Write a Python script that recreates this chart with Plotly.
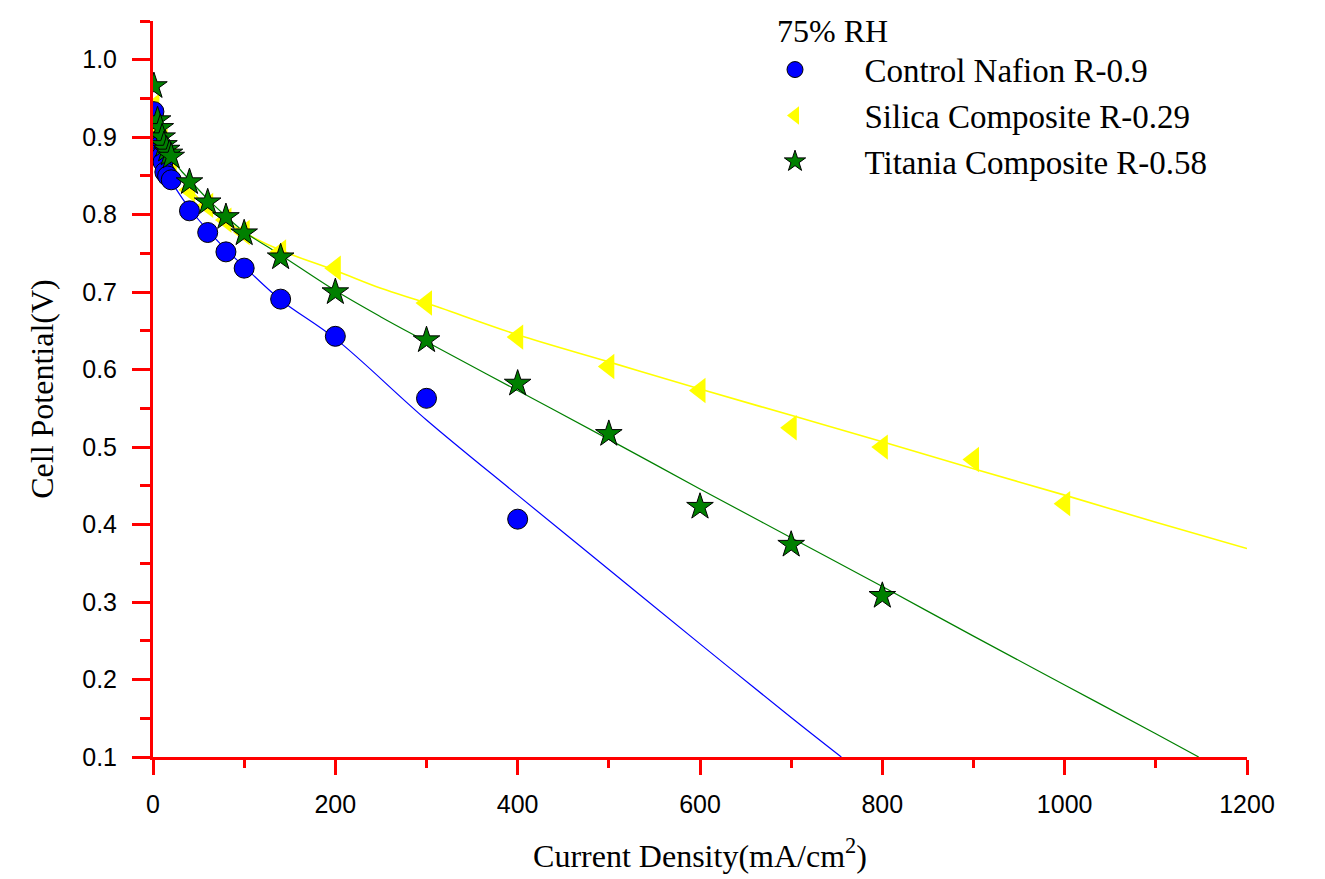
import plotly.graph_objects as go

# ---- data ----
nafion_x = [1, 5, 7, 9, 11, 13, 16, 20, 40, 60, 80, 100, 140, 200, 300, 400]
nafion_y = [0.933, 0.895, 0.882, 0.875, 0.868, 0.855, 0.850, 0.845, 0.805, 0.777, 0.752, 0.731, 0.691, 0.643, 0.563, 0.407]

silica_x = [1, 5, 10, 15, 20, 40, 60, 80, 100, 140, 200, 300, 400, 500, 600, 700, 800, 900, 1000]
silica_y = [0.940, 0.912, 0.895, 0.880, 0.870, 0.832, 0.812, 0.793, 0.777, 0.752, 0.731, 0.686, 0.642, 0.604, 0.573, 0.525, 0.500, 0.484, 0.427]

titania_x = [1, 5, 8, 10, 12, 15, 18, 20, 40, 60, 80, 100, 140, 200, 300, 400, 500, 600, 700, 800]
titania_y = [0.966, 0.922, 0.912, 0.900, 0.890, 0.884, 0.879, 0.875, 0.842, 0.816, 0.797, 0.776, 0.745, 0.700, 0.638, 0.582, 0.517, 0.423, 0.374, 0.308]

# fitted curves
nafion_fit_x = [3, 6, 10, 15, 20, 40, 60, 80, 100, 140, 200, 300, 400, 500, 600, 700, 755]
nafion_fit_y = [0.900, 0.880, 0.865, 0.853, 0.843, 0.808, 0.780, 0.755, 0.733, 0.690, 0.640, 0.535, 0.438, 0.342, 0.246, 0.151, 0.100]

silica_fit_x = [3, 6, 10, 15, 20, 30, 40, 60, 80, 100, 140, 200, 250, 300, 400, 500, 600, 700, 800, 900, 1000, 1100, 1200]
silica_fit_y = [0.930, 0.910, 0.893, 0.877, 0.865, 0.847, 0.833, 0.810, 0.792, 0.777, 0.754, 0.728, 0.705, 0.686, 0.645, 0.610, 0.575, 0.541, 0.507, 0.472, 0.438, 0.403, 0.369]

titania_fit_x = [4, 8, 12, 20, 30, 40, 60, 80, 100, 140, 200, 250, 300, 400, 500, 600, 700, 800, 900, 1000, 1100, 1147]
titania_fit_y = [0.925, 0.905, 0.890, 0.872, 0.858, 0.845, 0.820, 0.798, 0.778, 0.748, 0.702, 0.668, 0.636, 0.573, 0.510, 0.446, 0.383, 0.320, 0.256, 0.193, 0.130, 0.100]

names = ["Control Nafion R-0.9", "Silica Composite R-0.29", "Titania Composite R-0.58"]
legend_title = "75% RH"
x_title = "Current Density(mA/cm<sup>2</sup>)"
y_title = "Cell Potential(V)"

BLUE = "#0000FF"
YELLOW = "#FFFF00"
GREEN = "#008000"
RED = "#FF0000"
SERIF = "Liberation Serif"
SANS = "Liberation Sans"
PAD = "\u00a0" * 6  # visual gap between legend symbol and label

fig = go.Figure()

# fit lines
fig.add_trace(go.Scatter(x=nafion_fit_x, y=nafion_fit_y, mode="lines", line=dict(color=BLUE, width=1.2, shape="spline"),
                         showlegend=False, hoverinfo="skip"))
fig.add_trace(go.Scatter(x=silica_fit_x, y=silica_fit_y, mode="lines", line=dict(color=YELLOW, width=1.6, shape="spline"),
                         showlegend=False, hoverinfo="skip"))
fig.add_trace(go.Scatter(x=titania_fit_x, y=titania_fit_y, mode="lines", line=dict(color=GREEN, width=1.2, shape="spline"),
                         showlegend=False, hoverinfo="skip"))

# markers
fig.add_trace(go.Scatter(x=silica_x, y=silica_y, mode="markers", name=PAD + names[1], legendrank=2,
                         marker=dict(symbol="triangle-left", size=22, color=YELLOW, line=dict(width=0))))
fig.add_trace(go.Scatter(x=nafion_x, y=nafion_y, mode="markers", name=PAD + names[0], legendrank=1,
                         marker=dict(symbol="circle", size=20, color=BLUE, line=dict(width=1, color="black"))))
fig.add_trace(go.Scatter(x=titania_x, y=titania_y, mode="markers", name=PAD + names[2], legendrank=3,
                         marker=dict(symbol="star", size=20, color=GREEN, line=dict(width=1, color="black"))))

axis_common = dict(
    showline=True, linecolor=RED, linewidth=3, mirror=False,
    ticks="outside", tickcolor=RED, tickwidth=3,
    showgrid=False, zeroline=False,
    tickfont=dict(family=SANS, size=25, color="black"),
)

fig.update_xaxes(range=[0, 1200], tick0=0, dtick=200, ticklen=15,
                 minor=dict(ticks="outside", dtick=100, ticklen=8, tickcolor=RED, tickwidth=3, showgrid=False),
                 title=dict(text=x_title, font=dict(family=SERIF, size=32, color="black"), standoff=28),
                 ticklabelstandoff=8,
                 **axis_common)
fig.update_yaxes(range=[0.1, 1.05], tick0=0.1, dtick=0.1, tickformat=".1f", ticklen=18,
                 minor=dict(ticks="outside", dtick=0.05, tick0=0.1, ticklen=10, tickcolor=RED, tickwidth=3, showgrid=False),
                 title=dict(text=y_title, font=dict(family=SERIF, size=32, color="black"), standoff=20),
                 ticklabelstandoff=10,
                 **axis_common)

fig.update_layout(
    width=1325, height=879,
    margin=dict(l=153, r=78, t=21, b=122, autoexpand=False),
    plot_bgcolor="white", paper_bgcolor="white",
    legend=dict(
        title=dict(text=legend_title, font=dict(family=SERIF, size=32, color="black")),
        font=dict(family=SERIF, size=33, color="black"),
        xref="container", yref="container", x=775 / 1325, y=1.0,
        xanchor="left", yanchor="top", bgcolor="rgba(0,0,0,0)", borderwidth=0,
        tracegroupgap=0,
    ),
)

fig.write_html("out.html")
